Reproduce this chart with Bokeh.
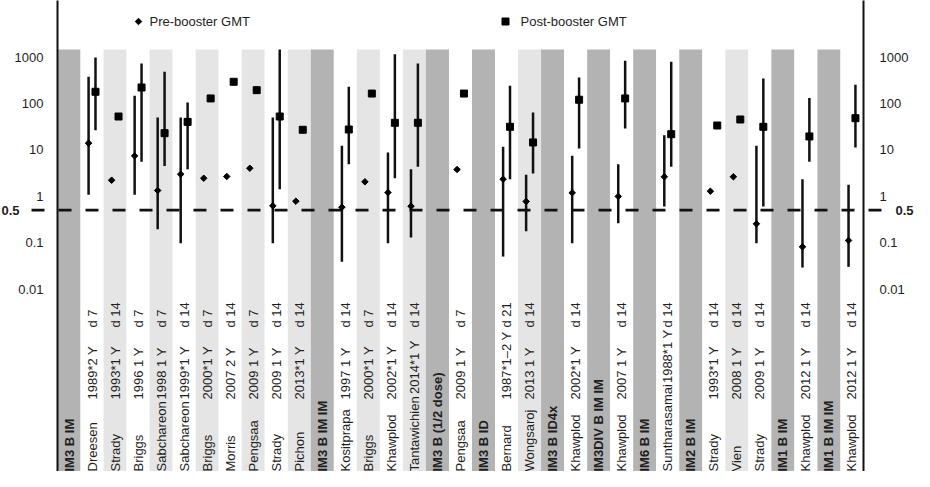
import numpy as np
from bokeh.plotting import figure
from bokeh.models import Range1d
from bokeh.embed import file_html
from bokeh.resources import INLINE
from bokeh.core.properties import value

nan = float("nan")

# ---- data -------------------------------------------------------------
names = ["IM3 B IM", "Dreesen", "Strady", "Briggs", "Sabchareon", "Sabchareon",
         "Briggs", "Morris", "Pengsaa", "Strady", "Pichon", "IM3 B IM IM",
         "Kositprapa", "Briggs", "Khawplod", "Tantawichien", "IM3 B (1/2 dose)",
         "Pengsaa", "IM3 B ID", "Bernard", "Wongsaroj", "IM3 B ID4x", "Khawplod",
         "IM3DIV B IM IM", "Khawplod", "IM6 B IM", "Suntharasamai", "IM2 B IM",
         "Strady", "Vien", "Strady", "IM1 B IM", "Khawplod", "IM1 B IM IM", "Khawplod"]
years = ["", "1989*", "1993*", "1996", "1998", "1999*", "2000*", "2007", "2009",
         "2009", "2013*", "", "1997", "2000*", "2002*", "2014*", "", "2009", "",
         "1987*", "2013", "", "2002*", "", "2007", "", "1988*", "", "1993*",
         "2008", "2009", "", "2012", "", "2012"]
followup = ["", "2 Y", "1 Y", "1 Y", "1 Y", "1 Y", "1 Y", "2 Y", "1 Y", "1 Y",
            "1 Y", "", "1 Y", "1 Y", "1 Y", "1 Y", "", "1 Y", "", "1\u20132 Y",
            "1 Y", "", "1 Y", "", "1 Y", "", "1 Y", "", "1 Y", "1 Y", "1 Y", "",
            "1 Y", "", "1 Y"]
days = ["", "d 7", "d 14", "d 7", "d 7", "d 14", "d 7", "d 14", "d 7", "d 14",
        "d 14", "", "d 14", "d 7", "d 14", "d 14", "", "d 7", "", "d 21", "d 14",
        "", "d 14", "", "d 14", "", "d 14", "", "d 14", "d 14", "d 14", "",
        "d 14", "", "d 14"]

pre_gmt = [nan, 13.9, 2.21, 7.4, 1.33, 2.98, 2.44, 2.66, 4.0, 0.62, 0.78, nan,
           0.58, 2.04, 1.2, 0.61, nan, 3.76, nan, 2.33, 0.77, nan, 1.18, nan,
           0.99, nan, 2.62, nan, 1.28, 2.62, 0.254, nan, 0.081, nan, 0.111]
pre_lo = [nan, 1.07, nan, 1.07, 0.195, 0.097, nan, nan, nan, 0.097, nan, nan,
          0.0386, nan, 0.097, 0.129, nan, nan, nan, 0.05, 0.176, nan, 0.097, nan,
          0.26, nan, 0.6, nan, nan, nan, 0.097, nan, 0.029, nan, 0.030]
pre_hi = [nan, 374, nan, 146, 49.7, 49.7, nan, nan, nan, 49.7, nan, nan,
          12.2, nan, 8.7, 3.8, nan, nan, nan, 11.6, 2.89, nan, 7.4, nan,
          4.9, nan, 20.6, nan, nan, nan, 12.2, nan, 2.33, nan, 1.76]
post_gmt = [nan, 178, 52.2, 220, 22.8, 40, 128, 292, 193, 52.2, 27, nan,
            27.4, 163, 38.2, 38.2, nan, 163, nan, 31.3, 14.4, nan, 120, nan,
            128, nan, 21.7, nan, 33.4, 45, 31.3, nan, 19.4, nan, 48]
post_lo = [nan, 26.4, nan, 5.5, 4.5, 3.8, nan, nan, nan, 1.42, nan, nan,
           4.9, nan, 2.44, 4.3, nan, nan, nan, 2.33, 3.08, nan, 10.7, nan,
           28.8, nan, 4.3, nan, nan, nan, 0.6, nan, 5.5, nan, 11.2]
post_hi = [nan, 975, nan, 724, 480, 104, nan, nan, nan, 1450, nan, nan,
           228, nan, 1150, 724, nan, nan, nan, 239, 63.7, nan, 362, nan,
           828, nan, 788, nan, nan, nan, 344, nan, 130, nan, 251]

tick_vals = [1000, 100, 10, 1, 0.1, 0.01]
tick_labels = ["1000", "100", "10", "1", "0.1", "0.01"]
ref_val = 0.5
ref_label = "0.5"
legend_labels = ["Pre-booster GMT", "Post-booster GMT"]

# ---- geometry helpers (page pixels -> data) ----------------------------
W, H = 914, 471
NCOL = len(names)
X0_PX, X1_PX = 65.0, 871.0
SX = (X1_PX - X0_PX) / NCOL
Y1000_PX, DEC_PX = 64.5, 46.4
FS = 13  # label font size, px


def xd(px):
    return (px - X0_PX) / SX


def yd(py):
    return 10 ** (3 - (py - Y1000_PX) / DEC_PX)


# approximate Arial/Liberation Sans advance widths (per em) for overflow check
_AW = {"a": .556, "b": .556, "c": .5, "d": .556, "e": .556, "f": .278,
       "g": .556, "h": .556, "i": .222, "j": .222, "k": .5, "l": .222,
       "m": .833, "n": .556, "o": .556, "p": .556, "q": .556, "r": .333,
       "s": .5, "t": .278, "u": .556, "v": .5, "w": .722, "x": .5, "y": .5,
       "z": .5, "B": .667, "D": .722, "K": .667, "M": .833, "P": .667,
       "S": .667, "T": .611, "V": .667, "W": .944, " ": .278}


def text_w(s):
    return sum(_AW.get(c, .556) for c in s) * FS


FONT = value("Liberation Sans")
TXT = "#1e1e1e"
DARK = "#b3b3b3"
LIGHT = "#e5e5e5"

p = figure(width=W, height=H,
           x_range=Range1d(xd(8), xd(8 + W)),
           y_range=Range1d(yd(8 + H), yd(8)),
           y_axis_type="log", x_axis_location=None, y_axis_location=None,
           toolbar_location=None, output_backend="svg", min_border=0,
           outline_line_color=None, background_fill_color="white",
           border_fill_color="white")
p.xgrid.visible = False
p.ygrid.visible = False

# ---- background bands ---------------------------------------------------
band_top = yd(57)
band_bot = yd(8 + H + 5)
fills = []
k = 0
for i in range(NCOL):
    if years[i] == "":
        fills.append(DARK)
        k = 0
    else:
        fills.append(LIGHT if k % 2 == 1 else "white")
        k += 1
idx = list(range(NCOL))
p.quad(left=[i for i in idx], right=[i + 1 for i in idx],
       bottom=[band_bot] * NCOL, top=[band_top] * NCOL,
       fill_color=fills, line_color=None)

# ---- axis lines ---------------------------------------------------------
p.segment(x0=[0, NCOL], x1=[0, NCOL], y0=[yd(4)] * 2, y1=[band_bot] * 2,
          line_color="#111111", line_width=2)

# ---- reference dashed line ---------------------------------------------
p.segment(x0=[xd(39)], x1=[xd(890)], y0=[ref_val], y1=[ref_val],
          line_color="#111111", line_width=2.6, line_dash="13 14")

# ---- error bars and points -----------------------------------------------
OFF = 0.15


def valid(*arrs):
    return [i for i in range(NCOL) if all(not np.isnan(a[i]) for a in arrs)]


ci_pre = valid(pre_lo, pre_hi)
ci_post = valid(post_lo, post_hi)
p.segment(x0=[i + 0.5 - OFF for i in ci_pre], x1=[i + 0.5 - OFF for i in ci_pre],
          y0=[pre_lo[i] for i in ci_pre], y1=[pre_hi[i] for i in ci_pre],
          line_color="#111111", line_width=2.5)
p.segment(x0=[i + 0.5 + OFF for i in ci_post], x1=[i + 0.5 + OFF for i in ci_post],
          y0=[post_lo[i] for i in ci_post], y1=[post_hi[i] for i in ci_post],
          line_color="#111111", line_width=2.5)

pp = valid(pre_gmt)
p.scatter(x=[i + 0.5 - OFF for i in pp], y=[pre_gmt[i] for i in pp],
          marker="square", angle=np.pi / 4, size=4.6, color="black")
qp = valid(post_gmt)
p.scatter(x=[i + 0.5 + OFF for i in qp], y=[post_gmt[i] for i in qp],
          marker="square", size=7, color="black")

# ---- legend -------------------------------------------------------------
p.scatter(x=[xd(146)], y=[yd(29)], marker="square", angle=np.pi / 4, size=4.6,
          color="black")
p.scatter(x=[xd(513)], y=[yd(29)], marker="square", size=7, color="black")
p.text(x=[xd(157), xd(528)], y=[yd(29)] * 2, text=legend_labels,
       text_font=FONT, text_font_size="13px", text_color=TXT,
       text_align="left", text_baseline="middle")

# ---- y tick labels (both sides) ------------------------------------------
p.text(x=[xd(51)] * len(tick_vals), y=tick_vals, text=tick_labels,
       text_font=FONT, text_font_size="13px", text_color=TXT,
       text_align="right", text_baseline="middle")
p.text(x=[xd(887)] * len(tick_vals), y=tick_vals, text=tick_labels,
       text_font=FONT, text_font_size="13px", text_color=TXT,
       text_align="left", text_baseline="middle")
p.text(x=[xd(9), xd(921)], y=[ref_val] * 2, text=[ref_label] * 2,
       text_font=FONT, text_font_size="13px", text_color=TXT,
       text_font_style="bold", text_align=["left", "right"],
       text_baseline="middle")

# ---- column labels ------------------------------------------------------
NAME_PX, YEAR_PX, DAY_PX = 479, 407, 335
centers = [i + 0.5 for i in idx]
hdr = [i for i in idx if years[i] == ""]
stu = [i for i in idx if years[i] != ""]
yr_fu = [years[i] + ("" if years[i].endswith("*") else " ") + followup[i]
         for i in stu]
yr_pos = [yd(min(YEAR_PX, NAME_PX - text_w(names[i]) - 1)) for i in stu]
common = dict(angle=np.pi / 2, text_font=FONT, text_font_size="%dpx" % FS,
              text_color=TXT, text_align="left", text_baseline="middle")
p.text(x=[centers[i] for i in hdr], y=[yd(NAME_PX)] * len(hdr),
       text=[names[i] for i in hdr], text_font_style="bold", **common)
p.text(x=[centers[i] for i in stu], y=[yd(NAME_PX)] * len(stu),
       text=[names[i] for i in stu], **common)
p.text(x=[centers[i] for i in stu], y=yr_pos, text=yr_fu, **common)
p.text(x=[centers[i] for i in stu], y=[yd(DAY_PX)] * len(stu),
       text=[days[i] for i in stu], **common)

open("out.html", "w").write(file_html(p, INLINE))
